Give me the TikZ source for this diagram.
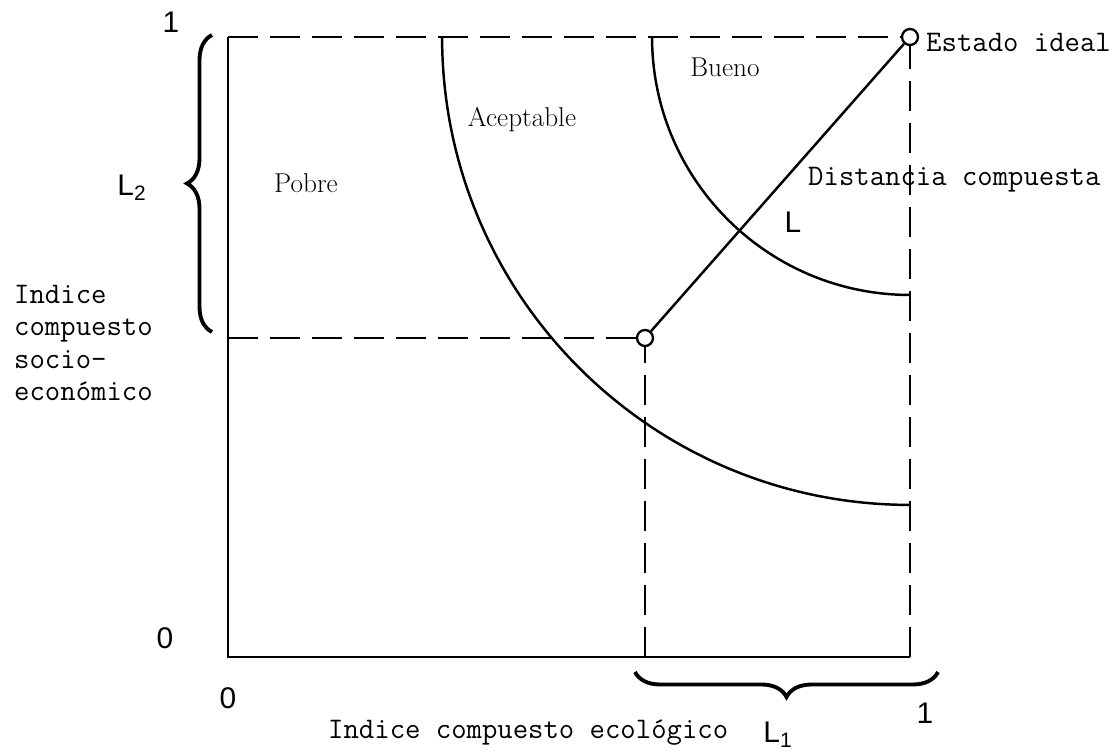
\documentclass[tikz,border=0pt]{standalone}
\usepackage{fontspec}
\usepackage{tikz}
\usetikzlibrary{decorations.pathreplacing, positioning}
\newfontfamily\handfont{Liberation Sans}

\begin{document}
\begin{tikzpicture}[x=0.02cm, y=-0.02cm, line width=1.4pt,
    dashline/.style={line width=1.5pt, dash pattern=on 0.6cm off 0.24cm},
    point/.style={circle, draw, fill=white, line width=1.3pt, inner sep=0pt, minimum size=0.32cm},
    region/.style={font=\fontsize{15.5}{18}\selectfont, inner sep=0pt},
    typed/.style={font=\fontsize{17}{18.5}\selectfont\ttfamily, inner sep=0pt},
    hand/.style={font=\fontsize{17}{20}\selectfont\handfont, inner sep=0pt},
    bracelet/.style={decorate, decoration={brace, amplitude=0.5cm}, line width=2.2pt}]

  \useasboundingbox (0,0) rectangle (1119,756);

  % unit square and reference points
  \coordinate (O) at (228,657);
  \coordinate (topleft) at (228,37);
  \coordinate (botright) at (910,657);
  \coordinate (midleft) at (228,338);
  \coordinate (midbot) at (645,657);
  \node[point] (ideal) at (910,37) {};
  \node[point] (state) at (645,338) {};

  \draw (topleft) -- (O) -- (botright);
  \draw[dashline] (topleft) -- (ideal);
  \draw[dashline] (botright) -- (ideal);
  \draw[dashline] (midleft) -- (state);
  \draw[dashline] (midbot) -- (state);

  % iso-distance curves
  \draw (ideal.center) ++(-5.16cm,0) arc[start angle=180, end angle=270, radius=5.16cm];
  \draw (ideal.center) ++(-9.36cm,0) arc[start angle=180, end angle=270, radius=9.36cm];
  \draw (state) -- (ideal);

  % braces
  \coordinate (bl1) at (212,332);
  \coordinate (bl2) at (212,35);
  \coordinate (bb1) at (938,672);
  \coordinate (bb2) at (635,672);
  \draw[bracelet] (bl1) -- (bl2);
  \draw[bracelet] (bb1) -- (bb2);

  % labels
  \node[region] (pobre) at (306,183) {Pobre};
  \node[region] (acept) at (522,120) {Aceptable};
  \node[region] (bueno) at (725,67) {Bueno};
  \node[typed, anchor=west] (idealtxt) at (925,42) {Estado ideal};
  \node[typed, anchor=base west] (dist) at (807,186) {Distancia compuesta};
  \node[typed, anchor=north west, align=left] (yaxis) at (13,284)
    {Indice\\compuesto\\socio-\\económico};
  \node[typed, anchor=base west] (xaxis) at (327,738) {Indice compuesto ecológico};

  \node[hand] (onetop) at (171,22) {1};
  \node[hand] (ltwo) at (132,188) {L\textsubscript{2}};
  \node[hand] (lthree) at (793,222) {L};
  \node[hand] (lone) at (778,735) {L\textsubscript{1}};
  \node[hand] (zeroy) at (165,638) {0};
  \node[hand] (zerox) at (228,698) {0};
  \node[hand] (onebot) at (925,713) {1};
\end{tikzpicture}
\end{document}
